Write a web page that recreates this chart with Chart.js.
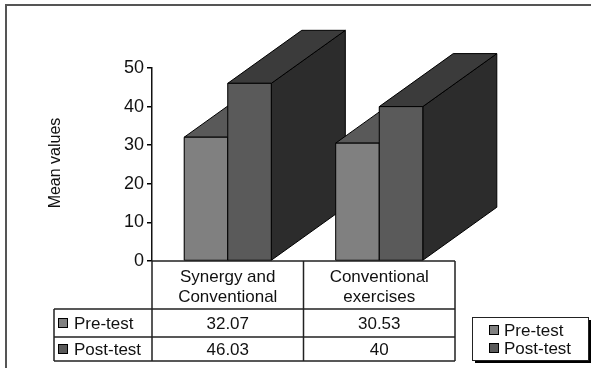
<!DOCTYPE html>
<html><head><meta charset="utf-8">
<script src="https://cdn.jsdelivr.net/npm/chart.js@4"></script>
<style>html,body{margin:0;padding:0;background:#fff;overflow:hidden}</style>
</head><body>
<canvas id="c" width="591" height="368"></canvas>
<script>
const categories = [["Synergy and", "Conventional"], ["Conventional", "exercises"]];
const seriesNames = ["Pre-test", "Post-test"];
const preTest = [32.07, 30.53];
const postTest = [46.03, 40];
const tableText = [["32.07", "30.53"], ["46.03", "40"]];
const yMin = 0, yMax = 50, yStep = 10;
const yTitle = "Mean values";

const FONT = '"Liberation Sans", Arial, sans-serif';
const frontCol = ['#808080', '#5a5a5a'];
const topCol = ['#595959', '#3b3b3b'];
const sideCol = ['#3a3a3a', '#2c2c2c'];
const DX = 74, DY = -53;

const bars3d = {
  id: 'bars3d',
  afterDatasetsDraw(chart) {
    const ctx = chart.ctx;
    const n = chart.data.labels.length;
    ctx.save();
    ctx.lineWidth = 1;
    ctx.strokeStyle = '#000';
    ctx.lineJoin = 'round';
    for (let i = 0; i < n; i++) {
      for (let d = 0; d < chart.data.datasets.length; d++) {
        const b = chart.getDatasetMeta(d).data[i];
        const l = b.x - b.width / 2, r = b.x + b.width / 2, t = b.y, base = b.base;
        ctx.beginPath();
        ctx.moveTo(r, t); ctx.lineTo(r + DX, t + DY); ctx.lineTo(r + DX, base + DY); ctx.lineTo(r, base); ctx.closePath();
        ctx.fillStyle = sideCol[d]; ctx.fill(); ctx.stroke();
        ctx.beginPath();
        ctx.moveTo(l, t); ctx.lineTo(l + DX, t + DY); ctx.lineTo(r + DX, t + DY); ctx.lineTo(r, t); ctx.closePath();
        ctx.fillStyle = topCol[d]; ctx.fill(); ctx.stroke();
        ctx.beginPath();
        ctx.rect(l, t, r - l, base - t);
        ctx.fillStyle = frontCol[d]; ctx.fill(); ctx.stroke();
      }
    }
    ctx.restore();
  }
};

const tablePlugin = {
  id: 'tablePlugin',
  afterDraw(chart) {
    const ctx = chart.ctx;
    const xs = chart.scales.x, ys = chart.scales.y;
    const n = chart.data.labels.length;
    const L = xs.left, R = xs.right, cw = (R - L) / n;
    const y0 = ys.getPixelForValue(0);
    const rowH = [48, 28, 24];
    const yH = y0, y1 = y0 + rowH[0], y2 = y1 + rowH[1], y3 = y2 + rowH[2];
    const labelL = 54;
    ctx.save();
    ctx.strokeStyle = '#222';
    ctx.lineWidth = 1.5;
    ctx.beginPath();
    ctx.moveTo(L, yH); ctx.lineTo(R, yH);
    [y1, y2, y3].forEach(y => { ctx.moveTo(labelL, y); ctx.lineTo(R, y); });
    ctx.moveTo(labelL, y1); ctx.lineTo(labelL, y3);
    ctx.moveTo(L, yH); ctx.lineTo(L, y3);
    for (let i = 1; i <= n; i++) { ctx.moveTo(L + cw * i, yH); ctx.lineTo(L + cw * i, y3); }
    ctx.stroke();

    ctx.fillStyle = '#111';
    ctx.font = '17px ' + FONT;
    ctx.textAlign = 'center';
    ctx.textBaseline = 'middle';
    for (let i = 0; i < n; i++) {
      const cx = L + cw * (i + 0.5);
      ctx.fillText(categories[i][0], cx, yH + 16);
      ctx.fillText(categories[i][1], cx, yH + 36);
      ctx.fillText(tableText[0][i], cx, (y1 + y2) / 2 + 1);
      ctx.fillText(tableText[1][i], cx, (y2 + y3) / 2 + 1);
    }
    ctx.textAlign = 'left';
    const rows = [[y1, y2], [y2, y3]];
    rows.forEach((rr, d) => {
      const cy = (rr[0] + rr[1]) / 2;
      ctx.fillStyle = frontCol[d];
      ctx.fillRect(58.5, cy - 4.5, 9, 9);
      ctx.lineWidth = 1; ctx.strokeStyle = '#000';
      ctx.strokeRect(58.5, cy - 4.5, 9, 9);
      ctx.fillStyle = '#111';
      ctx.fillText(seriesNames[d], 74, cy + 1);
    });

    const bx = 472, by = 317, bw = 116, bh = 43;
    ctx.fillStyle = '#000';
    ctx.fillRect(bx + 3, by + 3, bw, bh);
    ctx.fillStyle = '#fff';
    ctx.fillRect(bx, by, bw, bh);
    ctx.strokeStyle = '#222'; ctx.lineWidth = 1;
    ctx.strokeRect(bx + 0.5, by + 0.5, bw, bh);
    seriesNames.forEach((s, d) => {
      const cy = by + 13 + d * 18;
      ctx.fillStyle = frontCol[d];
      ctx.fillRect(489.5, cy - 4.5, 9, 9);
      ctx.strokeStyle = '#000';
      ctx.strokeRect(489.5, cy - 4.5, 9, 9);
      ctx.fillStyle = '#111';
      ctx.fillText(s, 504, cy + 1);
    });

    ctx.save();
    ctx.translate(56, 163);
    ctx.rotate(-Math.PI / 2);
    ctx.textAlign = 'center';
    ctx.font = '16px ' + FONT;
    ctx.fillStyle = '#111';
    ctx.fillText(yTitle, 0, 0);
    ctx.restore();

    ctx.strokeStyle = '#555';
    ctx.lineWidth = 2;
    ctx.strokeRect(6, 5, 700, 500);
    ctx.restore();
  }
};

new Chart(document.getElementById('c'), {
  type: 'bar',
  data: {
    labels: categories.map(c => c.join(' ')),
    datasets: [
      { label: seriesNames[0], data: preTest, backgroundColor: frontCol[0], borderColor: '#000', borderWidth: 1, categoryPercentage: 0.575, barPercentage: 1 },
      { label: seriesNames[1], data: postTest, backgroundColor: frontCol[1], borderColor: '#000', borderWidth: 1, categoryPercentage: 0.575, barPercentage: 1 }
    ]
  },
  options: {
    responsive: false,
    animation: false,
    layout: { padding: { left: 0, top: 68, right: 136, bottom: 107 } },
    plugins: { legend: { display: false }, tooltip: { enabled: false } },
    scales: {
      x: { display: false },
      y: {
        min: yMin, max: yMax,
        afterFit(s) { s.width = 152; },
        ticks: { stepSize: yStep, color: '#111', font: { size: 18, family: FONT }, padding: 3 },
        grid: { drawOnChartArea: false, drawTicks: true, tickLength: 5, color: '#000', lineWidth: 1.5 },
        border: { display: true, color: '#111', width: 1.5 }
      }
    }
  },
  plugins: [bars3d, tablePlugin]
});
</script>
</body></html>
